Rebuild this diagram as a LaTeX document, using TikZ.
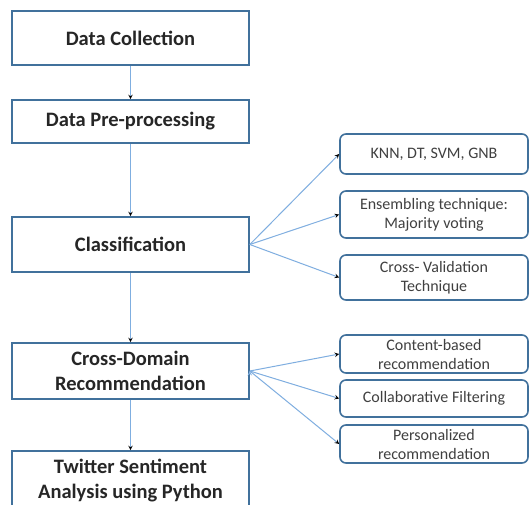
\documentclass[tikz,border=0pt]{standalone}
\usepackage{fontspec}
\setmainfont{Carlito}
\usetikzlibrary{arrows,positioning}
\definecolor{boxblue}{HTML}{41719C}
\definecolor{lineblue}{HTML}{7FAEE0}

\begin{document}
\begin{tikzpicture}[x=1pt,y=-1pt,->,>=stealth,
                    main box/.style={rectangle,draw=boxblue,line width=1.6pt,fill=white,
                      minimum width=237pt,inner sep=2pt,align=center,
                      font=\bfseries\fontsize{20.5}{25}\selectfont,text=black!85},
                    side box/.style={rectangle,rounded corners=6pt,draw=boxblue,line width=1.6pt,fill=white,
                      minimum width=188pt,inner sep=1pt,align=center,
                      font=\fontsize{16}{19}\selectfont,text=black!75},
                    link/.style={draw=lineblue,line width=1pt}]

  \clip (0,0) rectangle (530,504);
  \fill[white] (0,0) rectangle (530,504);

  \node[main box,minimum height=54pt] (0) at (130.5,38) {Data Collection};
  \node[main box,minimum height=43pt] (1) at (130.5,121.5) {Data Pre-processing};
  \node[main box,minimum height=55pt] (2) at (130.5,244.5) {Classification};
  \node[main box,minimum height=56pt] (3) at (130.5,371) {Cross-Domain\\Recommendation};
  \node[main box,minimum height=59pt] (4) at (130.5,480.5) {Twitter Sentiment\\Analysis using Python};

  \node[side box,minimum height=40pt] (5) at (434,154) {KNN, DT, SVM, GNB};
  \node[side box,minimum height=47pt] (6) at (434,214.5) {Ensembling technique:\\Majority voting};
  \node[side box,minimum height=45pt] (7) at (434,277.5) {Cross- Validation\\Technique};
  \node[side box,minimum height=38pt] (8) at (434,354) {Content-based\\recommendation};
  \node[side box,minimum height=37pt] (9) at (434,398.5) {Collaborative Filtering};
  \node[side box,minimum height=38pt] (10) at (434,444) {Personalized\\recommendation};

  \path[link]
    (0) edge (1)
    (1) edge (2)
    (2) edge (3)
    (3) edge (4)
    (2.east) edge (5.west)
    (2.east) edge (6.west)
    (2.east) edge (7.west)
    (3.east) edge (8.west)
    (3.east) edge (9.west)
    (3.east) edge (10.west);
\end{tikzpicture}
\end{document}
